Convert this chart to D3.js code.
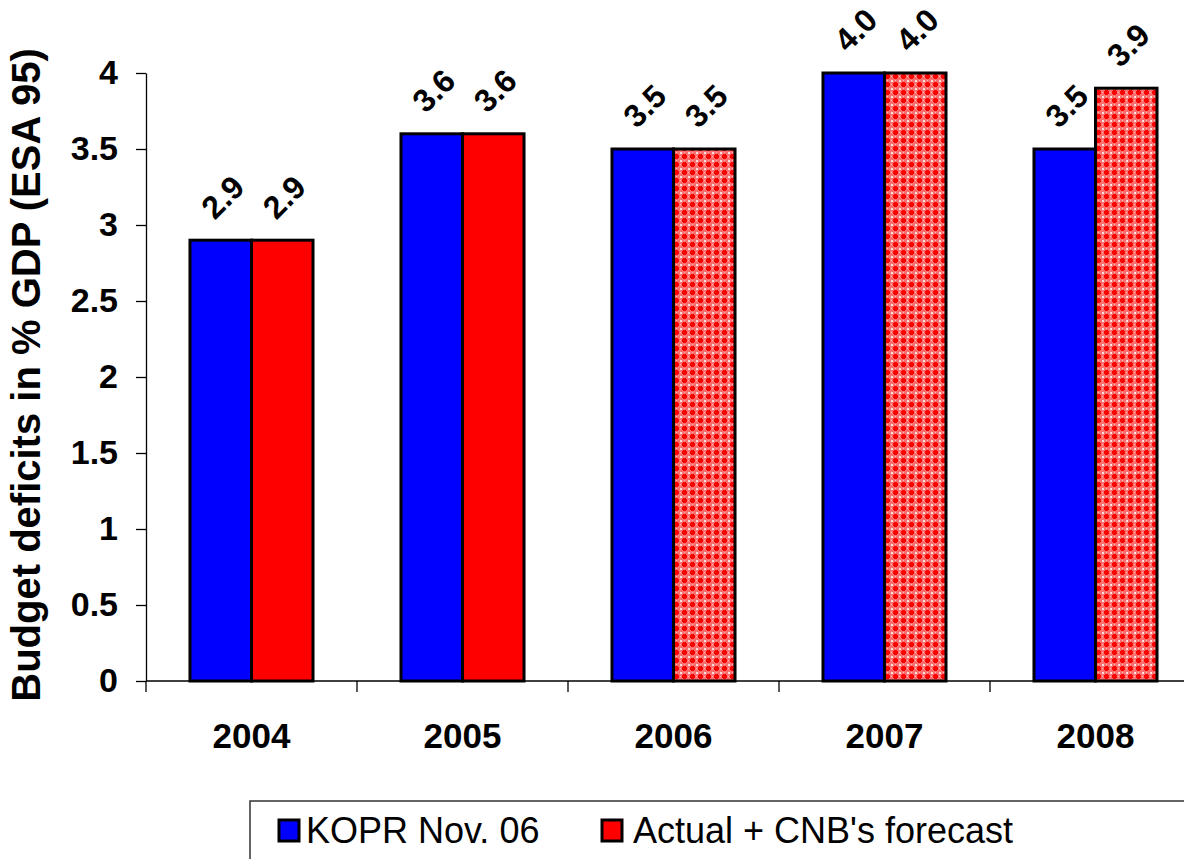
<!DOCTYPE html>
<html>
<head>
<meta charset="utf-8">
<script src="https://cdn.jsdelivr.net/npm/d3@7/dist/d3.min.js"></script>
<style>
  html, body { margin: 0; padding: 0; background: #fff; }
  svg { display: block; font-family: "Liberation Sans", Arial, sans-serif; }
</style>
</head>
<body>
<svg id="chart" width="1184" height="859"></svg>
<script>
// Budget deficits, % of GDP (ESA 95)
const years = ["2004", "2005", "2006", "2007", "2008"];
const seriesNames = ["KOPR Nov. 06", "Actual + CNB's forecast"];
const koprNov06 = [2.9, 3.6, 3.5, 4.0, 3.5];
const actualForecast = [2.9, 3.6, 3.5, 4.0, 3.9];
// years from 2006 on are forecasts (hatched)
const isForecast = [false, false, true, true, true];
const yTicks = [0, 0.5, 1, 1.5, 2, 2.5, 3, 3.5, 4];
const yTickLabels = ["0", "0.5", "1", "1.5", "2", "2.5", "3", "3.5", "4"];

const svg = d3.select("#chart");
const plot = { left: 146, right: 1201, top: 73, bottom: 681 };

// Red cross-hatch fill for forecast bars: red crosses on a pale lattice
const defs = svg.append("defs");
const pat = defs.append("pattern")
  .attr("id", "hatchRed")
  .attr("patternUnits", "userSpaceOnUse")
  .attr("width", 8).attr("height", 8);
pat.append("rect").attr("width", 8).attr("height", 8).attr("fill", "#ff7070");
pat.append("rect").attr("x", 0).attr("y", 0).attr("width", 2).attr("height", 2).attr("fill", "#ffe0e0");
pat.append("rect").attr("x", 4).attr("y", 0).attr("width", 1).attr("height", 1).attr("fill", "#ffb0b0");
pat.append("rect").attr("x", 0).attr("y", 4).attr("width", 1).attr("height", 1).attr("fill", "#ffb0b0");
pat.append("rect").attr("x", 3).attr("y", 2).attr("width", 3).attr("height", 5).attr("fill", "#ff0000");
pat.append("rect").attr("x", 2).attr("y", 3).attr("width", 5).attr("height", 3).attr("fill", "#ff0000");

const x0 = d3.scaleBand().domain(years).range([plot.left, plot.right]).paddingInner(0).paddingOuter(0);
const x1 = d3.scaleBand().domain(seriesNames).range([0, x0.bandwidth()]).paddingInner(0).paddingOuter(0.715);
const y = d3.scaleLinear().domain([0, 4]).range([plot.bottom, plot.top]);

const rows = years.map((yr, i) => ({
  year: yr,
  values: [
    { name: seriesNames[0], v: koprNov06[i], fill: "#0000ff" },
    { name: seriesNames[1], v: actualForecast[i], fill: isForecast[i] ? "url(#hatchRed)" : "#ff0000" }
  ]
}));

// Bars
const groups = svg.append("g").selectAll("g").data(rows).join("g")
  .attr("transform", d => `translate(${x0(d.year)},0)`);

groups.selectAll("rect").data(d => d.values).join("rect")
  .attr("x", d => x1(d.name))
  .attr("y", d => y(d.v))
  .attr("width", x1.bandwidth())
  .attr("height", d => y(0) - y(d.v))
  .attr("fill", d => d.fill)
  .attr("stroke", "#000")
  .attr("stroke-width", 3);

// Value labels, rotated
groups.selectAll("text").data(d => d.values).join("text")
  .attr("transform", d => `translate(${x1(d.name) + x1.bandwidth() / 2 + 2},${y(d.v) - 43}) rotate(-45)`)
  .attr("text-anchor", "middle")
  .attr("dominant-baseline", "central")
  .attr("font-size", 32)
  .attr("font-weight", "bold")
  .attr("fill", "#000")
  .text(d => d.v.toFixed(1));

// Y axis
const yAxis = d3.axisLeft(y).tickValues(yTicks).tickFormat((d, i) => yTickLabels[i])
  .tickSize(10).tickPadding(18).tickSizeOuter(0);
const gy = svg.append("g").attr("transform", `translate(${plot.left},0)`).call(yAxis);
gy.select(".domain").attr("stroke", "#000").attr("stroke-width", 1.3);
gy.selectAll(".tick line").attr("stroke", "#000").attr("stroke-width", 1.3);
gy.selectAll(".tick text").attr("font-size", 34).attr("font-weight", "bold").attr("fill", "#000")
  .attr("font-family", "Liberation Sans, Arial, sans-serif");

// X axis: line with ticks at category boundaries
const gx = svg.append("g");
gx.append("line")
  .attr("x1", plot.left).attr("x2", plot.right)
  .attr("y1", y(0)).attr("y2", y(0))
  .attr("stroke", "#000").attr("stroke-width", 1.3);
const boundaries = years.map(yr => x0(yr)).concat([x0(years[years.length - 1]) + x0.bandwidth()]);
gx.selectAll("line.tk").data(boundaries).join("line")
  .attr("class", "tk")
  .attr("x1", d => d).attr("x2", d => d)
  .attr("y1", y(0)).attr("y2", y(0) + 11)
  .attr("stroke", "#000").attr("stroke-width", 1.3);
gx.selectAll("text").data(years).join("text")
  .attr("x", d => x0(d) + x0.bandwidth() / 2)
  .attr("y", 748)
  .attr("text-anchor", "middle")
  .attr("font-size", 35)
  .attr("font-weight", "bold")
  .attr("fill", "#000")
  .text(d => d);

// Y axis title
svg.append("text")
  .attr("transform", `translate(40,375) rotate(-90)`)
  .attr("text-anchor", "middle")
  .attr("font-size", 40)
  .attr("font-weight", "bold")
  .attr("fill", "#000")
  .text("Budget deficits in % GDP (ESA 95)");

// Legend
const lg = svg.append("g");
lg.append("rect")
  .attr("x", 250).attr("y", 801).attr("width", 1000).attr("height", 100)
  .attr("fill", "#fff").attr("stroke", "#333").attr("stroke-width", 1.5);
const legendItems = [
  { name: seriesNames[0], fill: "#0000ff", sx: 279, tx: 306 },
  { name: seriesNames[1], fill: "#ff0000", sx: 602, tx: 633 }
];
lg.selectAll("rect.sw").data(legendItems).join("rect")
  .attr("class", "sw")
  .attr("x", d => d.sx).attr("y", 820)
  .attr("width", 20).attr("height", 21)
  .attr("fill", d => d.fill)
  .attr("stroke", "#000").attr("stroke-width", 3);
lg.selectAll("text").data(legendItems).join("text")
  .attr("x", d => d.tx).attr("y", 843)
  .attr("font-size", 36)
  .attr("fill", "#000")
  .text(d => d.name);
</script>
</body>
</html>
